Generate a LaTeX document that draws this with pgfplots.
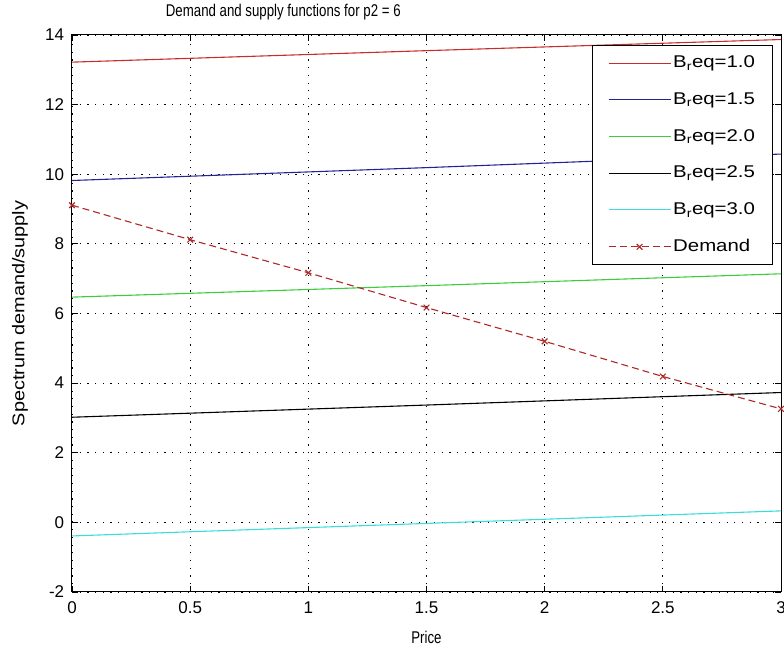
\documentclass[border=0pt]{standalone}
\usepackage{pgfplots}
\pgfplotsset{compat=1.18}
\usepackage{fontspec}
\setmainfont{Liberation Sans}
\newfontfamily\narrowf{Liberation Sans}[FakeStretch=0.78]
\newfontfamily\widef{Liberation Sans}[FakeStretch=1.17]
\newfontfamily\legf{Liberation Sans}[FakeStretch=1.2]
\definecolor{mred}{RGB}{200,45,45}
\definecolor{mblue}{RGB}{35,35,150}
\definecolor{mgreen}{RGB}{60,205,60}
\definecolor{mcyan}{RGB}{60,220,220}
\definecolor{dred}{RGB}{175,40,40}
\begin{document}
\fontsize{17}{20}\selectfont
\begin{tikzpicture}
\useasboundingbox (-72pt,-60pt) rectangle (712pt,592pt);
\begin{axis}[
  at={(0,0)}, anchor=south west,
  scale only axis, width=709pt, height=557pt,
  xmin=0, xmax=3, ymin=-2, ymax=14,
  xtick={0,0.5,...,3}, ytick={-2,0,...,14},
  xticklabels={0,0.5,1,1.5,2,2.5,3},
  yticklabels={-2,0,2,4,6,8,10,12,14},
  tick align=inside, major tick length=6pt,
  tick style={black, line width=0.8pt},
  axis line style={black, line width=1pt},
  grid=major,
  major grid style={black, line width=0.8pt, dash pattern=on 1.2pt off 6.5pt},
  ticklabel style={font=\fontsize{17}{20}\selectfont},
  xticklabel style={yshift=-4pt},
  yticklabel style={xshift=-2pt},
  title={Demand and supply functions for p2 = 6},
  title style={at={(axis description cs:0.298,1)}, anchor=south, inner sep=0pt, yshift=9pt, font=\fontsize{17}{20}\narrowf},
  xlabel={Price},
  xlabel style={at={(axis description cs:0.5,0)}, anchor=north, inner sep=0pt, yshift=-39pt, font=\fontsize{17}{20}\narrowf},
  ylabel={Spectrum demand/supply},
  ylabel style={at={(axis description cs:-0.062,0.5)}, anchor=south, inner sep=0pt, rotate=0, font=\fontsize{17}{20}\widef},
  legend style={at={(axis description cs:0.9873,0.9803)}, anchor=north east,
    draw=black, line width=1pt, fill=white, font=\fontsize{17}{20}\legf,
    outer sep=0pt, row sep=18.3pt, inner xsep=15pt, inner ysep=8pt, cells={anchor=west}},
  legend image code/.code={\draw[#1, mark=none, line width=1.2pt] (0pt,0pt) -- (62pt,0pt);
    \draw[#1, only marks] plot coordinates {(31pt,0pt)};},
]
\addplot[mred, line width=1.1pt] coordinates {(0,13.22) (1.5,13.55) (3,13.87)};
\addlegendentry{B\textsubscript{r}eq=1.0}
\addplot[mblue, line width=1.1pt] coordinates {(0,9.82) (1.5,10.19) (3,10.58)};
\addlegendentry{B\textsubscript{r}eq=1.5}
\addplot[mgreen, line width=1.1pt] coordinates {(0,6.47) (1.5,6.8) (3,7.14)};
\addlegendentry{B\textsubscript{r}eq=2.0}
\addplot[black, line width=1.1pt] coordinates {(0,3.02) (1.5,3.37) (3,3.73)};
\addlegendentry{B\textsubscript{r}eq=2.5}
\addplot[mcyan, line width=1.1pt] coordinates {(0,-0.39) (1.5,-0.03) (3,0.33)};
\addlegendentry{B\textsubscript{r}eq=3.0}
\addplot[dred, line width=1.1pt, dash pattern=on 7pt off 4pt, mark=x, mark size=4pt, mark options={solid}] coordinates {(0,9.11) (0.5,8.12) (1,7.17) (1.5,6.17) (2,5.2) (2.5,4.19) (3,3.26)};
\addlegendentry{Demand}
\end{axis}
\end{tikzpicture}
\end{document}
